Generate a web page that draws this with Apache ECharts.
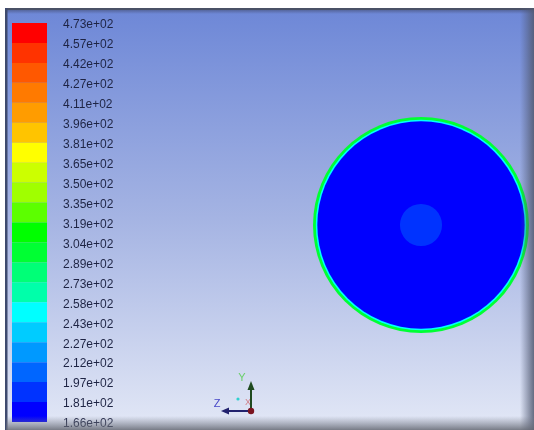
<!DOCTYPE html>
<html><head><meta charset="utf-8">
<style>html,body{margin:0;padding:0;background:#fff;overflow:hidden}#c{width:534px;height:430px}</style>
<script src="https://cdn.jsdelivr.net/npm/echarts@6/dist/echarts.min.js"></script>
</head><body><div id="c"></div>
<script>
// Contour level labels (top to bottom) and their numeric values (K)
const tickLabels = ['4.73e+02','4.57e+02','4.42e+02','4.27e+02','4.11e+02','3.96e+02','3.81e+02','3.65e+02','3.50e+02','3.35e+02','3.19e+02','3.04e+02','2.89e+02','2.73e+02','2.58e+02','2.43e+02','2.27e+02','2.12e+02','1.97e+02','1.81e+02','1.66e+02'];
const levelValues = [473,457,442,427,411,396,381,365,350,335,319,304,289,273,258,243,227,212,197,181,166];
// Band colours between consecutive levels (top to bottom)
const bandColors = ['#ff0000','#ff3300','#ff5800','#ff7a00','#ff9c00','#ffc400','#ffff00','#ccff00','#a0ff00','#5cff00','#00ff00','#00ff33','#00ff77','#00ffaa','#00ffff','#00ccff','#0099ff','#0066ff','#0033ff','#0000ff'];
// Cross-section contour regions: outer radius (fraction of pipe radius) and temperature (K)
const ringRadius = [1.0, 0.974, 0.96, 0.195];
const ringTemperature = [296, 250, 172, 190];
const pipeCenter = [0, 0];

function colorFor(t) {
  for (let i = 0; i < bandColors.length; i++) {
    if (t >= levelValues[i + 1]) return bandColors[i];
  }
  return bandColors[bandColors.length - 1];
}

const chart = echarts.init(document.getElementById('c'), null, {renderer: 'canvas'});
const font = 'Liberation Sans, Arial, sans-serif';

chart.setOption({
  animation: false,
  backgroundColor: '#ffffff',
  grid: [
    {left: 313, top: 117, width: 216, height: 216, show: false},
    {left: 12, top: 23, width: 35, height: 404, show: false}
  ],
  xAxis: [
    {gridIndex: 0, type: 'value', min: -1, max: 1, show: false},
    {gridIndex: 1, type: 'value', min: 0, max: 1, show: false}
  ],
  yAxis: [
    {gridIndex: 0, type: 'value', min: -1, max: 1, show: false},
    {gridIndex: 1, type: 'value', min: 0, max: 20, interval: 1, inverse: true, position: 'right',
     axisLine: {show: false}, axisTick: {show: false}, splitLine: {show: false},
     axisLabel: {show: true, margin: 16, color: '#1e2444', fontSize: 12, fontFamily: font,
       formatter: v => '{a|' + (tickLabels[Math.round(v)] || '') + '}',
       rich: {a: {color: '#1e2444', fontSize: 12, fontFamily: font, padding: [4, 0, 0, 0]}}}}
  ],
  graphic: [
    {type: 'rect', z: -10, shape: {x: 6, y: 8, width: 528, height: 422},
     style: {fill: new echarts.graphic.LinearGradient(0, 0, 0, 1, [
       {offset: 0, color: '#6d87d7'}, {offset: 0.5, color: '#a5b4e3'}, {offset: 1, color: '#e3e8f6'}])}},
    {type: 'rect', z: 100, shape: {x: 6, y: 8, width: 528, height: 2}, style: {fill: '#4a5166'}},
    {type: 'rect', z: 100, shape: {x: 6, y: 10, width: 528, height: 4},
     style: {fill: new echarts.graphic.LinearGradient(0, 0, 0, 1, [
       {offset: 0, color: 'rgba(70,80,120,0.6)'}, {offset: 1, color: 'rgba(70,80,120,0)'}])}},
    {type: 'rect', z: 100, shape: {x: 5, y: 8, width: 2.5, height: 422}, style: {fill: '#3e4a6e'}},
    {type: 'rect', z: 100, shape: {x: 520, y: 8, width: 14, height: 422},
     style: {fill: new echarts.graphic.LinearGradient(0, 0, 1, 0, [
       {offset: 0, color: 'rgba(80,90,120,0)'}, {offset: 1, color: 'rgba(80,88,110,0.85)'}])}},
    {type: 'rect', z: 100, shape: {x: 6, y: 416, width: 528, height: 14},
     style: {fill: new echarts.graphic.LinearGradient(0, 0, 0, 1, [
       {offset: 0, color: 'rgba(120,125,140,0)'}, {offset: 1, color: 'rgba(100,104,115,0.85)'}])}},
    // coordinate triad
    {type: 'line', z: 50, shape: {x1: 251, y1: 411, x2: 251, y2: 388}, style: {stroke: '#1f4a1f', lineWidth: 2}},
    {type: 'polygon', z: 50, shape: {points: [[251, 381], [247.5, 390], [254.5, 390]]}, style: {fill: '#1f4a1f'}},
    {type: 'line', z: 50, shape: {x1: 251, y1: 411, x2: 228, y2: 411}, style: {stroke: '#22226e', lineWidth: 2}},
    {type: 'polygon', z: 50, shape: {points: [[221, 411], [229, 407.5], [229, 414.5]]}, style: {fill: '#22226e'}},
    {type: 'circle', z: 51, shape: {cx: 251, cy: 411, r: 3.2}, style: {fill: '#7a1420'}},
    {type: 'circle', z: 50, shape: {cx: 238, cy: 399, r: 1.6}, style: {fill: '#30d0d0'}},
    {type: 'text', z: 50, style: {x: 242, y: 378, text: 'Y', fill: '#6ad06a', font: '11px ' + font, align: 'center', verticalAlign: 'middle'}},
    {type: 'text', z: 50, style: {x: 217, y: 404, text: 'Z', fill: '#4848c8', font: '11px ' + font, align: 'center', verticalAlign: 'middle'}},
    {type: 'text', z: 49, style: {x: 248, y: 403, text: 'X', fill: 'rgba(200,60,60,0.6)', font: '9px ' + font, align: 'center', verticalAlign: 'middle'}}
  ],
  series: [
    {
      type: 'custom', xAxisIndex: 0, yAxisIndex: 0, silent: true,
      data: ringRadius.map((r, i) => [r, ringTemperature[i]]),
      renderItem: (params, api) => {
        const c = api.coord(pipeCenter);
        const s = api.size([api.value(0), api.value(0)]);
        return {type: 'circle', shape: {cx: c[0], cy: c[1], r: s[0]},
                style: {fill: colorFor(api.value(1))}};
      }
    },
    {
      type: 'custom', xAxisIndex: 1, yAxisIndex: 1, silent: true,
      data: bandColors.map((c, i) => [i]),
      renderItem: (params, api) => {
        const i = api.value(0);
        const p0 = api.coord([0, i]);
        const p1 = api.coord([1, i + 1]);
        return {type: 'rect', shape: {x: Math.min(p0[0], p1[0]), y: Math.min(p0[1], p1[1]),
                  width: Math.abs(p1[0] - p0[0]), height: Math.abs(p1[1] - p0[1])},
                style: {fill: bandColors[i]}};
      }
    }
  ]
});
</script>
</body></html>
